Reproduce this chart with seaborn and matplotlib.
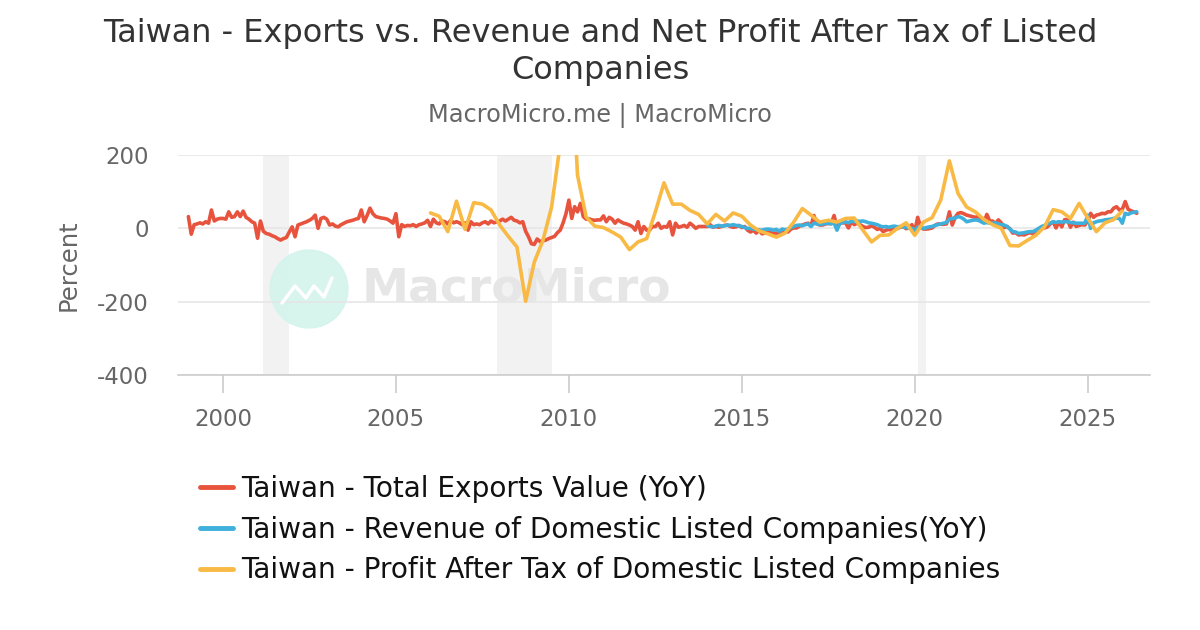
import numpy as np
import pandas as pd
import seaborn as sns
import matplotlib.pyplot as plt
from matplotlib.patches import Circle

# Taiwan total exports value, YoY %, monthly from Jan 1999
exports = (
    [32, -16, 10, 12, 15, 12, 18, 14, 50, 20, 25, 27]      # 1999
    + [27, 25, 45, 30, 32, 45, 32, 47, 30, 25, 18, 14]     # 2000
    + [-27, 20, -8, -14, -16, -20, -23, -28, -32, -28, -25, -10]
    + [4, -23, 9, 12, 15, 18, 22, 27, 36, 0, 27, 30]
    + [25, 9, 12, 6, 4, 10, 14, 18, 20, 22, 25, 27]
    + [50, 18, 35, 55, 40, 32, 30, 28, 27, 25, 20, 14]     # 2004
    + [40, -23, 10, 5, 8, 7, 10, 5, 10, 12, 15, 22]
    + [5, 25, 15, 12, 20, 18, 12, 22, 15, 18, 15, 10]
    + [15, -5, 18, 10, 12, 10, 15, 18, 12, 20, 15, 18]
    + [20, 25, 20, 25, 30, 22, 20, 15, 18, -8, -23, -42]
    + [-44, -29, -36, -34, -32, -28, -25, -22, -12, -5, 15, 40]  # 2009
    + [77, 27, 59, 45, 68, 32, 25, 26, 23, 22, 23, 23]
    + [34, 18, 30, 25, 14, 23, 18, 14, 12, 9, 5, -5]
    + [18, -14, 5, -5, -5, 5, 5, 14, 0, 5, 3, 18]
    + [-18, 14, 3, 5, 8, 3, 14, 8, 0, 5, 5, 5]
    + [5, 10, 3, 5, 3, 5, 8, 9, 5, 3, 4, 8]                # 2014
    + [2, 5, -5, -10, -5, -13, -5, -15, -13, -11, -12, -13]
    + [-13, -12, -11, -6, -10, -2, 1, 1, 6, 9, 12, 14]
    + [7, 35, 13, 9, 9, 12, 13, 13, 35, 3, 14, 15]
    + [15, 1, 18, 10, 14, 10, 5, 2, 3, 7, 3, -3]
    + [0, -9, -5, -3, -5, -1, 0, 3, 5, -1, 2, 10]          # 2019
    + [-8, 30, 5, -2, -2, -1, 1, 8, 12, 11, 11, 12]
    + [45, 9, 30, 41, 43, 40, 36, 34, 32, 30, 32, 27]
    + [16, 38, 20, 20, 13, 23, 15, 2, 5, -1, -13, -12]
    + [-18, -17, -18, -14, -12, -15, -10, -7, 3, 1, 4, 12]
    + [18, 1, 18, 4, 24, 23, 3, 17, 5, 8, 10, 9]           # 2024
    + [20, 41, 30, 36, 38, 41, 40, 45, 45, 55, 59, 50]
    + [52, 73, 52, 48, 45, 41]
)

# Revenue of domestic listed companies, YoY %, monthly from Jan 2014
revenue = (
    [9, 5, 4, 6, 8, 6, 7, 9, 8, 10, 8, 7]
    + [5, 2, 0, 0, -2, -3, -5, -5, -3, -2, -3, -5]
    + [-3, -8, -2, -4, -2, 2, 5, 8, 9, 7, 10, 12]
    + [5, 14, 12, 10, 12, 13, 14, 12, 15, -5, 14, 16]
    + [18, 15, 20, 18, 20, 19, 20, 18, 15, 14, 12, 10]
    + [6, 4, 5, 3, 5, 6, 4, 5, 4, 2, 1, 0]
    + [-5, 3, 2, 0, 2, 4, 5, 8, 10, 12, 14, 16]
    + [25, 27, 28, 32, 30, 25, 18, 20, 22, 23, 22, 18]
    + [14, 16, 14, 14, 15, 12, 10, 9, 5, -2, -9, -10]
    + [-14, -13, -12, -10, -9, -9, -5, 0, 5, 8, 12, 14]
    + [18, 16, 18, 17, 18, 18, 16, 15, 14, 14, 14, 14]
    + [36, 0, 15, 18, 20, 21, 23, 24, 25, 27, 28, 27]
    + [14, 41, 38, 42, 44, 45]
)

# Profit after tax of domestic listed companies, YoY %, quarterly from 2006Q1
profit = (
    [42, 33, -9, 74] + [-3, 70, 66, 50] + [9, -22, -51, -199]
    + [-92, -33, 58, 230] + [600, 145, 31, 6] + [2, -10, -24, -58]
    + [-37, -28, 45, 124] + [66, 66, 49, 38] + [12, 38, 20, 42]
    + [33, 9, -7, -15] + [-24, -13, 17, 54] + [36, 17, 22, 17]
    + [27, 28, -5, -37] + [-19, -18, 0, 15] + [-19, 17, 29, 77]
    + [184, 95, 58, 45] + [24, 10, 0, -47] + [-48, -33, -19, 4]
    + [51, 45, 27, 68] + [28, -9, 15, 24] + [47]
)

recessions = [(2001.17, 2001.92), (2007.92, 2009.5), (2020.08, 2020.33)]

labels = [
    "Taiwan - Total Exports Value (YoY)",
    "Taiwan - Revenue of Domestic Listed Companies(YoY)",
    "Taiwan - Profit After Tax of Domestic Listed Companies",
]
colors = ["#E8533D", "#3FB0DC", "#F8BA45"]

df_exp = pd.DataFrame({"t": 1999 + np.arange(len(exports)) / 12, "v": exports})
df_rev = pd.DataFrame({"t": 2014 + np.arange(len(revenue)) / 12, "v": revenue})
df_pro = pd.DataFrame({"t": 2006 + np.arange(len(profit)) / 4, "v": profit})

sns.set_theme(style="white")
plt.rcParams["font.family"] = ["DejaVu Sans"]
plt.rcParams["axes.unicode_minus"] = False

fig = plt.figure(figsize=(12, 6.3), dpi=100)
ax = fig.add_axes([178 / 1200, 1 - 375 / 630, 972 / 1200, 220 / 630])

for a, b in recessions:
    ax.axvspan(a, b, color="#f2f2f2", zorder=0, lw=0)

# watermark (inches from bottom-left corner)
inch = fig.dpi_scale_trans
ax.add_patch(Circle((3.09, 3.41), 0.39, transform=inch, color="#d3f4ec",
                    alpha=0.9, zorder=0.5, clip_on=False))
ax.plot([2.82, 2.95, 3.06, 3.14, 3.24, 3.32], [3.27, 3.44, 3.32, 3.44, 3.33, 3.52],
        transform=inch, color="white", lw=2.5, zorder=0.6, clip_on=False)
ax.text(3.62, 3.41, "MacroMicro", transform=inch, fontsize=34, fontweight="bold",
        color="#e6e6e6", va="center", ha="left", zorder=0.6)

for df, lab, col in zip([df_exp, df_rev, df_pro], labels, colors):
    sns.lineplot(data=df, x="t", y="v", ax=ax, color=col, linewidth=2.6, label=lab, zorder=5)

ax.set_xlim(1998.7, 2026.8)
ax.set_ylim(-400, 200)
ax.set_yticks([-400, -200, 0, 200])
ax.set_xticks([2000, 2005, 2010, 2015, 2020, 2025])
ax.set_xticklabels(["2000", "2005", "2010", "2015", "2020", "2025"])
ax.grid(axis="y", color="#e6e6e6", lw=1.2)
ax.set_axisbelow(True)
for s in ["top", "right", "left"]:
    ax.spines[s].set_visible(False)
ax.spines["bottom"].set_color("#cccccc")
ax.spines["bottom"].set_linewidth(1.2)
ax.tick_params(axis="x", length=13, width=1.2, color="#cccccc", pad=11,
               labelsize=16.5, labelcolor="#666666", direction="out", bottom=True)
ax.tick_params(axis="y", length=0, pad=21, labelsize=16.5, labelcolor="#666666")
ax.set_xlabel("")
ax.set_ylabel("Percent", fontsize=17.5, color="#666666", labelpad=12)

ax.get_legend().remove()
handles, labs = ax.get_legend_handles_labels()
leg = fig.legend(handles, labs, loc="upper left", bbox_to_anchor=(175 / 1200, 1 - 450 / 630),
                 frameon=False, fontsize=20.2, handlelength=1.15, handletextpad=0.3,
                 labelspacing=0.45, labelcolor="#111111")
for h in leg.get_lines():
    h.set_linewidth(3.5)

fig.text(0.5, 1 - 52 / 630,
         "Taiwan - Exports vs. Revenue and Net Profit After Tax of Listed\nCompanies",
         ha="center", va="center", fontsize=23, color="#333333", linespacing=1.22)
fig.text(0.5, 1 - 116 / 630, "MacroMicro.me | MacroMicro", ha="center", va="center",
         fontsize=17.3, color="#666666")

fig.savefig("out.png", dpi=100)
